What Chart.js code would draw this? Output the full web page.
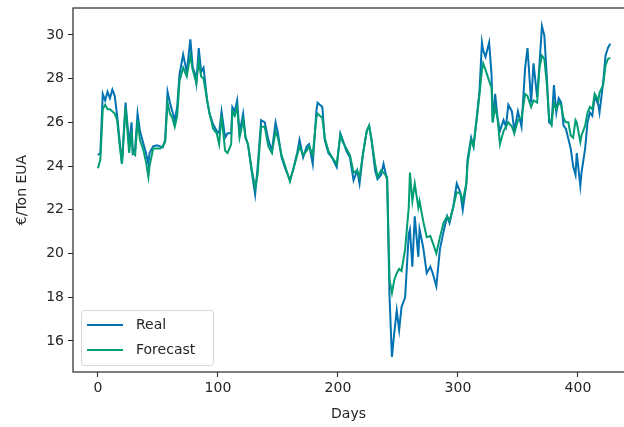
<!DOCTYPE html>
<html>
<head>
<meta charset="utf-8">
<script src="https://cdn.jsdelivr.net/npm/chart.js@4/dist/chart.umd.min.js"></script>
<style>
  html, body { margin: 0; padding: 0; background: #fff; }
  #wrap { width: 624px; height: 427px; }
</style>
</head>
<body>
<div id="wrap"><canvas id="chart" width="624" height="427"></canvas></div>
<script>
// ---------- data ----------
const days = [0,2,4,6,8,10,12,14,16,18,20,23,26,28,29,31,33,35,38,40,42,43,46,49,52,54,56,58,60,62,64,66,68,71,74,77,79,81,82,84,86,88,91,93,96,99,101,103,106,108,111,112,114,116,118,121,123,125,128,131,133,136,139,142,145,148,150,153,156,160,163,166,168,171,174,176,179,182,183,187,189,192,195,199,202,204,207,210,213,216,218,221,224,226,228,231,233,236,238,241,243,245,247,249,251,253,256,259,260,262,264,267,268,271,274,277,279,282,285,288,291,293,296,299,302,304,307,308,311,313,316,318,320,321,323,326,328,329,331,333,335,338,340,342,345,347,350,353,356,358,361,363,366,368,370,372,374,376,378,380,382,384,386,388,390,392,394,396,398,399,402,403,406,408,410,412,414,417,418,421,423,425,427];

const real = [24.5,24.6,27.3,27.0,27.4,27.1,27.5,27.2,26.3,25.2,24.1,26.9,25.0,26.0,24.6,24.8,26.4,25.6,25.0,24.6,24.1,24.6,24.9,24.95,24.9,24.85,25.2,27.4,26.9,26.5,26.1,26.7,28.2,29.1,28.3,29.8,28.5,28.2,27.8,29.4,28.3,28.5,27.0,26.4,25.9,25.6,25.5,26.5,25.3,25.5,25.5,26.7,26.5,27.0,25.5,26.4,25.3,25.0,23.8,22.7,23.9,26.1,26.0,25.2,24.7,26.0,25.5,24.4,23.9,23.35,23.9,24.6,25.2,24.4,24.9,25.0,24.1,26.5,26.9,26.7,25.2,24.6,24.4,23.95,25.5,25.2,24.7,24.4,23.35,23.8,23.2,24.6,25.6,25.85,25.2,23.8,23.4,23.6,24.1,23.35,18.0,15.27,16.4,17.4,16.5,17.55,18.0,20.9,21.1,19.4,21.7,19.85,21.1,20.3,19.1,19.4,19.1,18.5,20.2,21.0,21.7,21.4,22.1,23.2,22.8,22.0,23.2,24.3,25.3,24.9,26.4,27.45,29.65,29.3,29.0,29.65,28.2,26.0,27.3,26.2,25.6,26.1,25.8,26.8,26.5,25.6,26.5,25.8,28.5,29.4,26.9,28.7,27.15,28.7,30.4,29.97,28.15,26.0,25.9,27.7,26.45,27.1,26.9,25.85,25.7,25.25,24.8,24.0,23.6,24.6,23.1,23.7,24.8,26.0,26.45,26.3,27.2,26.8,26.45,27.8,29.05,29.4,29.6];

const forecast = [23.9,24.3,26.6,26.8,26.6,26.6,26.5,26.4,26.1,25.0,24.1,26.7,24.6,25.6,24.6,24.5,26.1,25.2,24.7,24.2,23.5,24.0,24.8,24.8,24.8,24.9,25.1,26.9,26.4,26.2,25.8,26.3,27.9,28.5,28.1,29.05,28.4,28.0,27.8,28.8,28.1,28.0,27.0,26.4,25.7,25.5,25.0,26.3,24.7,24.6,25.0,26.5,26.3,26.7,25.3,26.1,25.3,25.0,23.9,23.0,23.6,25.8,25.8,24.9,24.6,25.6,25.3,24.5,24.0,23.3,23.9,24.5,24.9,24.5,24.7,24.9,24.5,26.2,26.4,26.2,25.3,24.7,24.4,24.1,25.4,25.1,24.8,24.5,23.7,23.8,23.5,24.6,25.6,25.85,25.2,24.1,23.5,23.8,23.7,23.5,18.8,18.2,18.8,19.1,19.3,19.2,20.2,22.1,23.7,22.4,23.2,22.1,22.4,21.5,20.75,20.8,20.5,20.0,20.75,21.4,21.7,21.5,22.1,22.8,22.75,22.4,23.2,24.1,25.2,24.9,26.3,27.3,28.4,28.7,28.4,27.9,27.6,26.0,26.7,26.2,25.0,25.6,25.8,26.0,25.8,25.5,26.1,26.2,27.3,27.2,26.7,27.0,26.9,28.5,29.05,28.9,27.8,26.2,25.9,26.9,26.6,26.9,26.8,26.2,26.0,26.0,25.4,25.3,26.1,26.0,25.1,25.4,25.85,26.45,26.7,26.6,27.3,27.0,27.35,27.7,28.6,28.9,28.95];

const xTicks = [0, 100, 200, 300, 400];
const yTicks = [16, 18, 20, 22, 24, 26, 28, 30];
const seriesNames = ["Real", "Forecast"];
const seriesColors = ["#0173B2", "#029E73"];

// ---------- helpers ----------
const font = { family: "'DejaVu Sans', sans-serif", size: 14 };
const ink = "#262626";

function points(vals) {
  return days.map((d, i) => ({ x: d, y: vals[i] }));
}

// frame round the plot area (matplotlib spines)
const framePlugin = {
  id: "frame",
  afterDraw(chart) {
    const a = chart.chartArea, c = chart.ctx;
    c.save();
    c.strokeStyle = ink;
    c.lineWidth = 1.2;
    c.strokeRect(a.left, a.top, a.right - a.left + 2, a.bottom - a.top);
    c.restore();
  }
};

// legend box in the lower left corner
const legendPlugin = {
  id: "boxLegend",
  afterDraw(chart) {
    const a = chart.chartArea, c = chart.ctx;
    const x = a.left + 8, y = a.bottom - 62, w = 132, h = 55;
    c.save();
    c.fillStyle = "rgba(255,255,255,0.8)";
    c.strokeStyle = "#d6d6d6";
    c.lineWidth = 1;
    c.beginPath();
    c.roundRect(x + 0.5, y + 0.5, w, h, 3);
    c.fill();
    c.stroke();
    c.font = "14px 'DejaVu Sans', sans-serif";
    c.textBaseline = "middle";
    [0, 1].forEach(i => {
      const ds = chart.data.datasets[i];
      const ly = y + 15 + i * 25;
      c.strokeStyle = ds.borderColor;
      c.lineWidth = 2;
      c.beginPath();
      c.moveTo(x + 6, ly);
      c.lineTo(x + 42, ly);
      c.stroke();
      c.fillStyle = ink;
      c.fillText(ds.label, x + 55, ly);
    });
    c.restore();
  }
};

new Chart(document.getElementById("chart"), {
  type: "line",
  data: {
    datasets: [
      { label: seriesNames[0], data: points(real), borderColor: seriesColors[0], order: 1 },
      { label: seriesNames[1], data: points(forecast), borderColor: seriesColors[1], order: 0 }
    ]
  },
  options: {
    responsive: false,
    animation: false,
    layout: { padding: { top: 8, right: 0, left: 0, bottom: 0 } },
    elements: {
      line: { borderWidth: 2, tension: 0, fill: false },
      point: { radius: 0 }
    },
    plugins: { legend: { display: false }, tooltip: { enabled: false } },
    scales: {
      x: {
        type: "linear",
        min: -20.8,
        max: 438.4,
        afterBuildTicks: s => { s.ticks = xTicks.map(v => ({ value: v })); },
        afterFit: s => { s.height = 55; s.paddingLeft = 0; s.paddingRight = 0; },
        grid: { drawOnChartArea: false, drawTicks: true, tickLength: 5, color: ink, lineWidth: 1 },
        border: { display: false },
        ticks: { color: ink, font: font, padding: 3, maxRotation: 0 },
        title: { display: true, text: "Days", color: ink, font: font, padding: { top: 0 } }
      },
      y: {
        min: 14.58,
        max: 31.23,
        afterBuildTicks: s => { s.ticks = yTicks.map(v => ({ value: v })); },
        afterFit: s => { s.width = 73; s.paddingTop = 0; s.paddingBottom = 0; },
        grid: { drawOnChartArea: false, drawTicks: true, tickLength: 5, color: ink, lineWidth: 1 },
        border: { display: false },
        ticks: { color: ink, font: font, padding: 4 },
        title: { display: true, text: "€/Ton EUA", color: ink, font: font, padding: { top: 14, bottom: 4 } }
      }
    }
  },
  plugins: [framePlugin, legendPlugin]
});
</script>
</body>
</html>
